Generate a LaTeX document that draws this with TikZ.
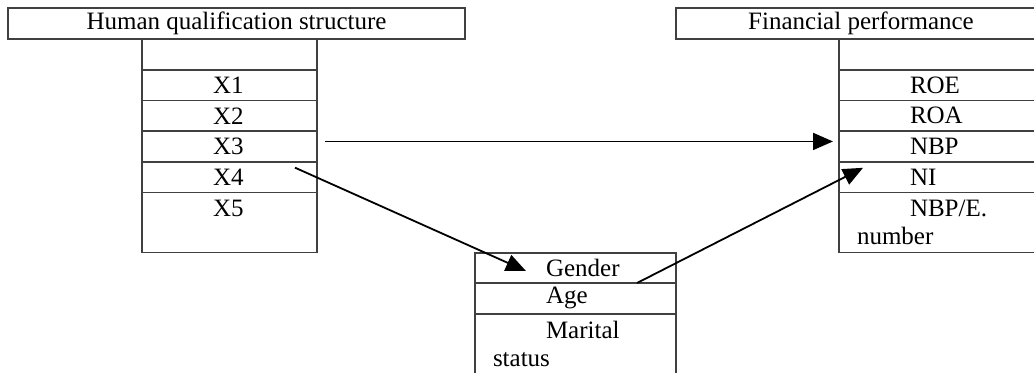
\documentclass[tikz,border=0pt]{standalone}
\usepackage{fontspec}
\setmainfont{Liberation Serif}
\usetikzlibrary{positioning,arrows.meta}
\begin{document}
\begin{tikzpicture}[x=0.5pt,y=-0.5pt,font=\fontsize{12.5}{14}\selectfont,
  hdr/.style={draw=black!75,line width=0.8pt,outer sep=0pt,inner sep=0pt,minimum height=15.5pt,anchor=north west},
  cell/.style={draw=black!75,line width=0.8pt,outer sep=0pt,inner xsep=9pt,inner ysep=0pt,anchor=north,align=left,minimum height=15.35pt,execute at begin node=\hspace*{26.5pt}},
  arr/.style={-{Triangle[length=10pt,width=8.5pt]},line width=0.9pt}]
\useasboundingbox (0,0) rectangle (1034,372);
\node[hdr,minimum width=228.5pt] (hqs) at (8,8) {Human qualification structure};
\node[hdr,minimum width=185pt] (fp) at (676,8) {Financial performance};
% left column
\node[cell,text width=69.5pt] (l0) at (229.5,39) {};
\node[cell,text width=69.5pt,below=0pt of l0] (x1) {X1};
\node[cell,text width=69.5pt,below=0pt of x1] (x2) {X2};
\node[cell,text width=69.5pt,below=0pt of x2] (x3) {X3};
\node[cell,text width=69.5pt,below=0pt of x3] (x4) {X4};
\node[cell,text width=69.5pt,minimum height=30pt,below=0pt of x4] (x5) {X5\\\mbox{}};
% right column
\node[cell,text width=82.5pt] (r0) at (939.5,39) {};
\node[cell,text width=82.5pt,below=0pt of r0] (roe) {ROE};
\node[cell,text width=82.5pt,below=0pt of roe] (roa) {ROA};
\node[cell,text width=82.5pt,below=0pt of roa] (nbp) {NBP};
\node[cell,text width=82.5pt,below=0pt of nbp] (ni) {NI};
\node[cell,text width=82.5pt,minimum height=30pt,below=0pt of ni] (nbpe) {NBP/E.\\number};
% middle column
\node[cell,text width=82.5pt,minimum height=15pt] (gender) at (575.5,253) {Gender};
\node[cell,text width=82.5pt,below=0pt of gender] (age) {Age};
\node[cell,text width=82.5pt,minimum height=30pt,below=0pt of age] (marital) {Marital\\status};
\draw[arr] ([xshift=4pt,yshift=2.5pt]x3.east) -- ([xshift=-3pt,yshift=2.5pt]nbp.west);
\draw[arr] ([xshift=-11pt,yshift=4.75pt]x4.east) -- ([xshift=-24.75pt,yshift=-1.5pt]gender.center);
\draw[arr] ([xshift=-19.5pt]gender.south east) -- ([xshift=12pt,yshift=-3pt]ni.north west);
\end{tikzpicture}
\end{document}
